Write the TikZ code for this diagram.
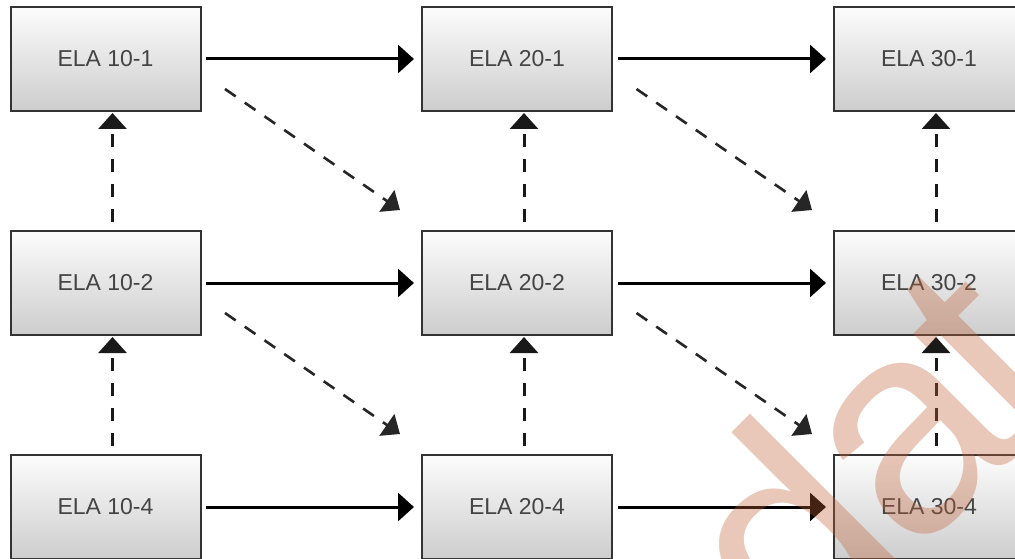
\documentclass[tikz,border=0pt]{standalone}
\usepackage{fontspec}
\setmainfont{Liberation Sans}
\usetikzlibrary{arrows.meta,calc}
\definecolor{boxline}{RGB}{51,51,51}
\definecolor{boxtext}{RGB}{68,68,68}
\definecolor{boxtop}{RGB}{252,252,252}
\definecolor{boxbot}{RGB}{205,205,205}
\definecolor{wmark}{RGB}{192,98,55}
\tikzset{
  elabox/.style={draw=boxline, line width=2pt, top color=boxtop, bottom color=boxbot,
    minimum width=190pt, minimum height=104pt, inner sep=0pt, outer sep=0pt,
    text=boxtext, font=\fontsize{23}{26}\selectfont},
  flow/.style={line width=3pt, draw=black, -{Triangle[length=16pt,width=28pt]},
    shorten <=5.5pt, shorten >=8pt},
  upflow/.style={line width=3pt, draw=black!90, dash pattern=on 13pt off 12pt,
    -{Triangle[length=16pt,width=28pt]}, shorten <=9pt, shorten >=2pt},
  diagflow/.style={line width=2.6pt, draw=black!85, dash pattern=on 13pt off 11pt,
    -{Triangle[length=16pt,width=26pt]}}
}
\begin{document}
\begin{tikzpicture}[x=1pt,y=-1pt]
\clip (0,0) rectangle (1015,559);
\fill[white] (0,0) rectangle (1015,559);
% boxes
\node[elabox] (a1) at (105.5,59) {ELA 10-1};
\node[elabox] (b1) at (517,59) {ELA 20-1};
\node[elabox] (c1) at (929,59) {ELA 30-1};
\node[elabox] (a2) at (105.5,283) {ELA 10-2};
\node[elabox] (b2) at (517,283) {ELA 20-2};
\node[elabox] (c2) at (929,283) {ELA 30-2};
\node[elabox] (a4) at (105.5,507) {ELA 10-4};
\node[elabox] (b4) at (517,507) {ELA 20-4};
\node[elabox] (c4) at (929,507) {ELA 30-4};
% horizontal arrows
\draw[flow] (a1.east) -- (b1.west);
\draw[flow] (b1.east) -- (c1.west);
\draw[flow] (a2.east) -- (b2.west);
\draw[flow] (b2.east) -- (c2.west);
\draw[flow] (a4.east) -- (b4.west);
\draw[flow] (b4.east) -- (c4.west);
% vertical dashed arrows
\draw[upflow] ([xshift=7pt]a2.north) -- ([xshift=7pt]a1.south);
\draw[upflow] ([xshift=7pt]b2.north) -- ([xshift=7pt]b1.south);
\draw[upflow] ([xshift=7pt]c2.north) -- ([xshift=7pt]c1.south);
\draw[upflow] ([xshift=7pt]a4.north) -- ([xshift=7pt]a2.south);
\draw[upflow] ([xshift=7pt]b4.north) -- ([xshift=7pt]b2.south);
\draw[upflow] ([xshift=7pt]c4.north) -- ([xshift=7pt]c2.south);
% diagonal dashed arrows
\draw[diagflow] ($(a1.south east)+(24.5,-22)$) -- ($(b2.north west)+(-22,-21)$);
\draw[diagflow] ($(b1.south east)+(24.5,-22)$) -- ($(c2.north west)+(-22,-21)$);
\draw[diagflow] ($(a2.south east)+(24.5,-22)$) -- ($(b4.north west)+(-22,-21)$);
\draw[diagflow] ($(b2.south east)+(24.5,-22)$) -- ($(c4.north west)+(-22,-21)$);
% watermark
\node[anchor=base west, rotate=45, inner sep=0pt, text=wmark, opacity=0.35,
  font=\fontsize{300}{300}\selectfont] (wm) at (800,672) {d\kern-6pt a\kern-14pt t};
\end{tikzpicture}
\end{document}
